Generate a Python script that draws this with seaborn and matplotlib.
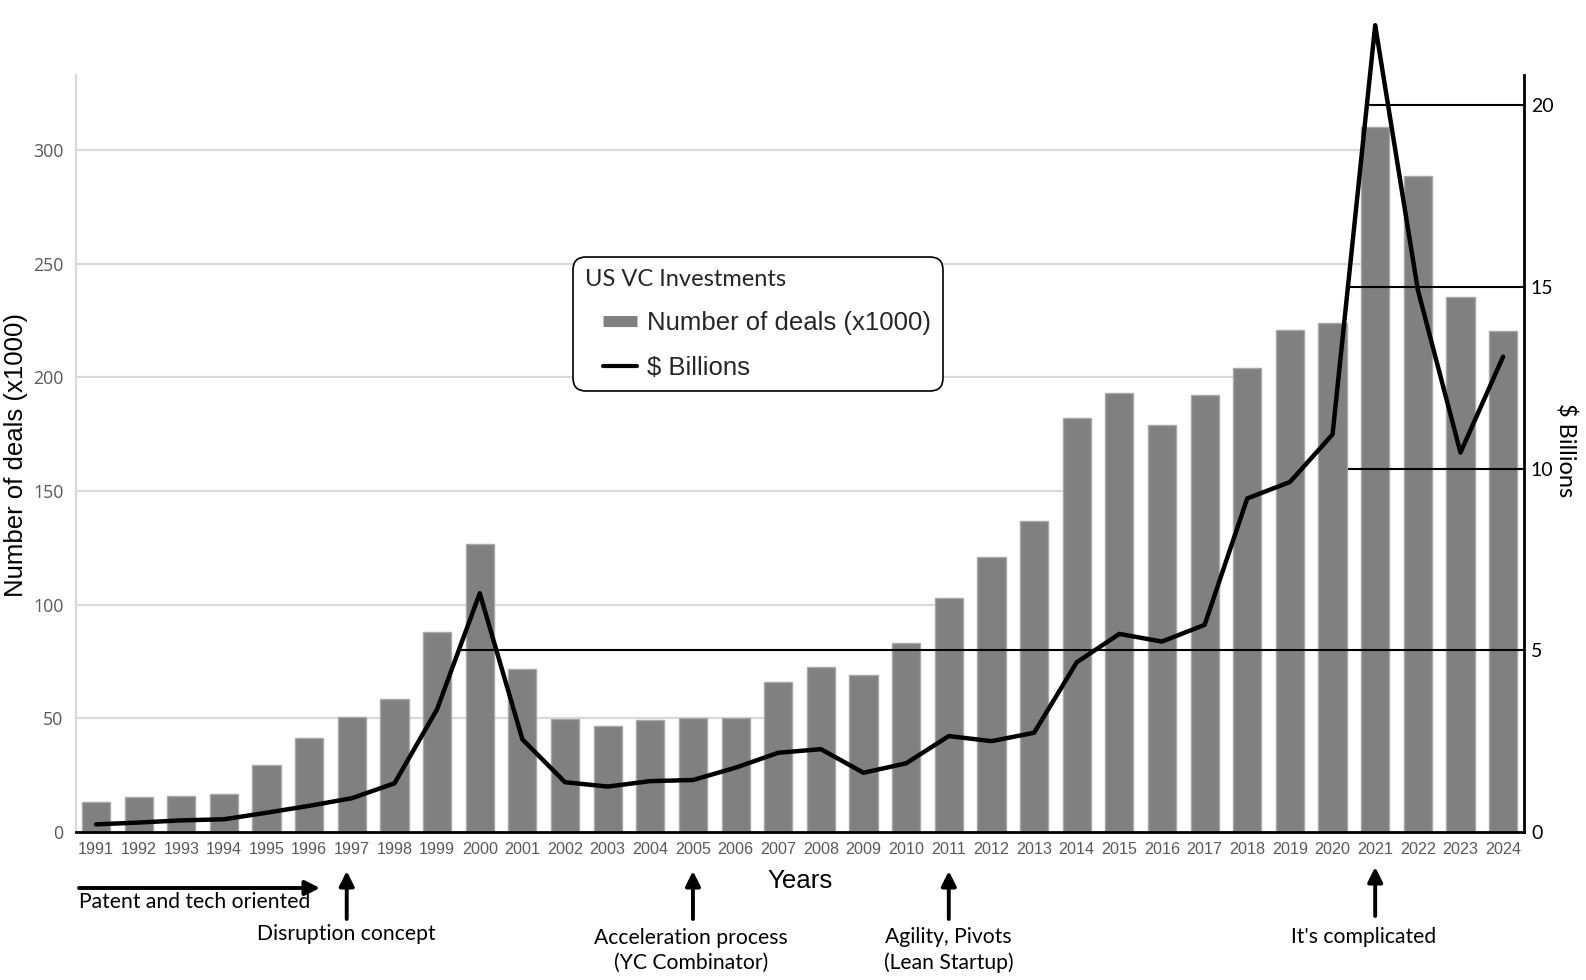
import numpy as np
import matplotlib
matplotlib.use("Agg")
import matplotlib.pyplot as plt
from matplotlib.lines import Line2D
from matplotlib.legend_handler import HandlerLine2D
import matplotlib.patches as mpatches
import seaborn as sns

# ---------------- data ----------------
years = [str(y) for y in range(1991, 2025)]
deals = [13.2, 15.3, 15.8, 16.6, 29.5, 41.2, 50.4, 58.4, 88.0, 126.5, 71.7, 49.6,
         46.8, 49.3, 50.3, 50.3, 65.9, 72.6, 69.2, 83.1, 102.8, 121.1, 137.0, 182.1,
         193.3, 179.0, 192.4, 204.0, 221.0, 223.8, 310.0, 288.5, 235.2, 220.4]
billions = [0.21, 0.26, 0.32, 0.35, 0.53, 0.72, 0.93, 1.34, 3.38, 6.57, 2.55, 1.37,
            1.25, 1.40, 1.43, 1.77, 2.18, 2.28, 1.63, 1.89, 2.64, 2.50, 2.73, 4.67,
            5.45, 5.24, 5.70, 9.18, 9.63, 10.94, 22.2, 14.92, 10.44, 13.08]
left_ticks = [0, 50, 100, 150, 200, 250, 300]
right_ticks = [0, 5, 10, 15, 20]
legend_title = "US VC Investments"
legend_labels = ["Number of deals (x1000)", "$ Billions"]
milestones = [  # (year, text)
    ("1997", "Disruption concept"),
    ("2005", "Acceleration process\n(YC Combinator)"),
    ("2011", "Agility, Pivots\n(Lean Startup)"),
    ("2021", "It's complicated"),
]
era_text = "Patent and tech oriented"

# ---------------- style / layout ----------------
W, H = 1586, 980
sns.set_style("white")
plt.rcParams["font.family"] = ["Liberation Sans", "DejaVu Sans"]

def fx(x):
    return x / W

def fy(y):
    return 1 - y / H

AX_L, AX_R, AX_T, AX_B = 76, 1524, 75, 832
XLIM = (-0.469, 33.49)
GRID_END = {50: 15.67, 100: 19.67, 150: 22.67, 200: 26.67, 250: 29.67, 300: 29.67}
RGRID_START = {5: 8.52, 10: 29.36, 15: 29.38, 20: 29.85}
# per-milestone offsets (arrow x offset, text x offset) in category units
MS_OFFSET = {"1997": (-0.12, -0.12), "2005": (0.0, -0.05), "2011": (0.0, 0.0),
             "2021": (0.0, -0.27)}


class OffsetLineHandler(HandlerLine2D):
    """Line handle drawn with an indent on its left."""
    def __init__(self, offset_px, **kw):
        super().__init__(**kw)
        self.offset_px = offset_px

    def create_artists(self, legend, orig_handle, xdescent, ydescent, width,
                       height, fontsize, trans):
        o = self.offset_px
        return super().create_artists(legend, orig_handle, xdescent - o, ydescent,
                                      width - o, height, fontsize, trans)


fig = plt.figure(figsize=(W / 100, H / 100), dpi=100)
ax = fig.add_axes([fx(AX_L), fy(AX_B), (AX_R - AX_L) / W, (AX_B - AX_T) / H])

sns.barplot(x=years, y=deals, color="#808080", saturation=1, width=0.66,
            edgecolor="#a8a8a8", linewidth=1, ax=ax, zorder=2)

ax2 = ax.twinx()
xpos = np.arange(len(years))
sns.lineplot(x=xpos, y=billions, ax=ax2, color="black", linewidth=3.2,
             clip_on=False, zorder=5)

ax.set_xlim(*XLIM)
ax2.set_xlim(*XLIM)
ax.set_ylim(0, 333)
ax2.set_ylim(0, 20.83)

# left gridlines (light gray, behind bars)
for lvl, xend in GRID_END.items():
    ax.hlines(lvl, XLIM[0], xend, color="#d9d9d9", linewidth=1.6, zorder=1)
# right gridlines (black)
for lvl, xs in RGRID_START.items():
    ax2.hlines(lvl, xs, XLIM[1], color="black", linewidth=1.5, zorder=3)

# ticks
ax.set_yticks(left_ticks)
ax.set_yticklabels([str(t) for t in left_ticks], family="Open Sans", fontsize=12.8,
                   color="#595959")
ax.tick_params(axis="y", length=0, pad=9)
ax.set_xticks(xpos)
ax.set_xticklabels(years, fontsize=11.6, color="#595959", family="Liberation Sans")
ax.tick_params(axis="x", length=0, pad=7)
ax2.set_yticks(right_ticks)
ax2.set_yticklabels([str(t) for t in right_ticks], family="Lato", fontsize=14,
                    color="black")
ax2.tick_params(axis="y", length=0, pad=5)

# spines
for s in ["top", "right"]:
    ax.spines[s].set_visible(False)
ax.spines["left"].set_color("#d9d9d9")
ax.spines["left"].set_linewidth(1.6)
ax.spines["bottom"].set_color("black")
ax.spines["bottom"].set_linewidth(2)
for s in ["top", "left", "bottom"]:
    ax2.spines[s].set_visible(False)
ax2.spines["right"].set_color("black")
ax2.spines["right"].set_linewidth(2)

# axis labels
ax.set_ylabel("Number of deals (x1000)", fontsize=18.5, color="black", va="center")
ax.yaxis.set_label_coords((16 - AX_L) / (AX_R - AX_L), (AX_B - 455) / (AX_B - AX_T))
ax.set_xlabel("Years", fontsize=18.6, color="black")
ax.xaxis.label.set_va("center")
ax.xaxis.set_label_coords((800 - AX_L) / (AX_R - AX_L), (AX_B - 881) / (AX_B - AX_T))
ax2.set_ylabel("$ Billions", family="Lato", fontsize=17, color="black", rotation=270,
               va="center")
ax2.yaxis.set_label_coords((1566 - AX_L) / (AX_R - AX_L), (AX_B - 450) / (AX_B - AX_T))

# legend
h_bar = Line2D([0], [0], color="#808080", linewidth=8, solid_capstyle="butt")
h_line = Line2D([0], [0], color="black", linewidth=3)
leg = ax2.legend([h_bar, h_line], legend_labels, title=legend_title, loc="upper left",
                 bbox_to_anchor=(fx(573), fy(257)), bbox_transform=fig.transFigure,
                 borderaxespad=0, frameon=True, fancybox=True, framealpha=1,
                 edgecolor="black", prop={"family": "Liberation Sans", "size": 18.5},
                 title_fontproperties={"family": "Lato", "size": 17},
                 alignment="left", handlelength=2.05, handletextpad=0.38,
                 labelspacing=0.82, borderpad=0.45,
                 handler_map={h_bar: OffsetLineHandler(13),
                              h_line: OffsetLineHandler(13)})
leg.get_frame().set_linewidth(1.2)
leg.get_frame().set_boxstyle("round", pad=0, rounding_size=0.5)
leg.set_zorder(10)

# annotations below the axis
ann_font = {"family": "Lato", "size": 15.2, "color": "black"}
arrow_kw = dict(arrowstyle="-|>", color="black", lw=2.8, mutation_scale=22,
                shrinkA=0, shrinkB=0)
# horizontal era arrow
fig.patches.append(mpatches.FancyArrowPatch(
    (fx(79), fy(888)), (fx(320), fy(888)), transform=fig.transFigure, **arrow_kw))
fig.text(fx(79), fy(902), era_text, ha="left", va="center", **ann_font)

label_y = {1: 937, 2: 950}
for year, txt in milestones:
    i = years.index(year)
    aoff, toff = MS_OFFSET[year]
    tail = 919 if year != "2021" else 916
    tip = 871 if year != "2021" else 867
    ax.annotate("", xy=(i + aoff, fy(tip)), xytext=(i + aoff, fy(tail)),
                xycoords=("data", "figure fraction"),
                textcoords=("data", "figure fraction"),
                arrowprops=arrow_kw, annotation_clip=False)
    nlines = txt.count("\n") + 1
    ty = 934 if year == "1997" else label_y[nlines]
    ax.annotate(txt, xy=(i + toff, fy(ty)), xycoords=("data", "figure fraction"),
                ha="center", va="center", linespacing=1.3, annotation_clip=False,
                **ann_font)

fig.savefig("out.png", dpi=100)
